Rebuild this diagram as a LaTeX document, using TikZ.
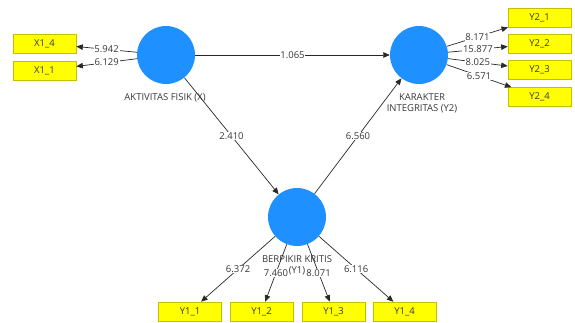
\documentclass[tikz,border=0pt]{standalone}
\usepackage{fontspec}
\setmainfont{Open Sans}
\usetikzlibrary{arrows.meta}
\definecolor{lvblue}{RGB}{30,144,255}
\definecolor{indyel}{RGB}{255,255,0}
\definecolor{indbord}{RGB}{200,190,0}
\definecolor{txtgray}{RGB}{55,55,55}
\definecolor{lngray}{RGB}{40,40,40}
\begin{document}
\begin{tikzpicture}[x=1pt,y=-1pt,
  font=\fontsize{9.5}{11}\selectfont, text=txtgray,
  latent/.style={circle, fill=lvblue, minimum size=58pt, inner sep=0pt},
  indic/.style={draw=indbord, fill=indyel, minimum width=63pt, minimum height=19pt, inner sep=0pt, line width=0.6pt},
  conn/.style={draw=lngray, line width=0.7pt, -{Triangle[length=6.5pt,width=5.5pt]}},
  val/.style={fill=white, inner sep=0.8pt, midway}
]
\useasboundingbox (0,0) rectangle (575,322);
% latent variables
\node[latent] (X) at (166,55) {};
\node[latent] (Y2) at (419,55) {};
\node[latent] (Y1) at (297,217) {};
% indicators
\node[indic] (X14) at (44.5,43.5) {X1\_4};
\node[indic] (X11) at (44.5,70.5) {X1\_1};
\node[indic] (Y21) at (539.5,17.5) {Y2\_1};
\node[indic] (Y22) at (539.5,43.5) {Y2\_2};
\node[indic] (Y23) at (539.5,70) {Y2\_3};
\node[indic] (Y24) at (539.5,97) {Y2\_4};
\node[indic] (Y11) at (190,311.5) {Y1\_1};
\node[indic] (Y12) at (261.5,311.5) {Y1\_2};
\node[indic] (Y13) at (333.5,311.5) {Y1\_3};
\node[indic] (Y14) at (404.5,311.5) {Y1\_4};
% latent labels
\node[inner sep=0pt] (lX) at (165,98) {AKTIVITAS FISIK (X)};
\node[inner sep=0pt, align=center] (lY2) at (422,103) {KARAKTER\\INTEGRITAS (Y2)};
\node[inner sep=0pt, align=center] (lY1) at (297,265) {BERPIKIR KRITIS\\(Y1)};
% connectors
\draw[conn] (X) -- node[val]{5.942} (X14);
\draw[conn] (X) -- node[val]{6.129} (X11);
\draw[conn] (Y2) -- node[val]{8.171} (Y21);
\draw[conn] (Y2) -- node[val]{15.877} (Y22);
\draw[conn] (Y2) -- node[val]{8.025} (Y23);
\draw[conn] (Y2) -- node[val]{6.571} (Y24);
\draw[conn] (Y1) -- node[val]{6.372} (Y11);
\draw[conn] (Y1) -- node[val]{7.460} (Y12);
\draw[conn] (Y1) -- node[val]{8.071} (Y13);
\draw[conn] (Y1) -- node[val]{6.116} (Y14);
\draw[conn] (X) -- node[val]{1.065} (Y2);
\draw[conn] (X) -- node[val]{2.410} (Y1);
\draw[conn] (Y1) -- node[val]{6.560} (Y2);
\end{tikzpicture}
\end{document}
